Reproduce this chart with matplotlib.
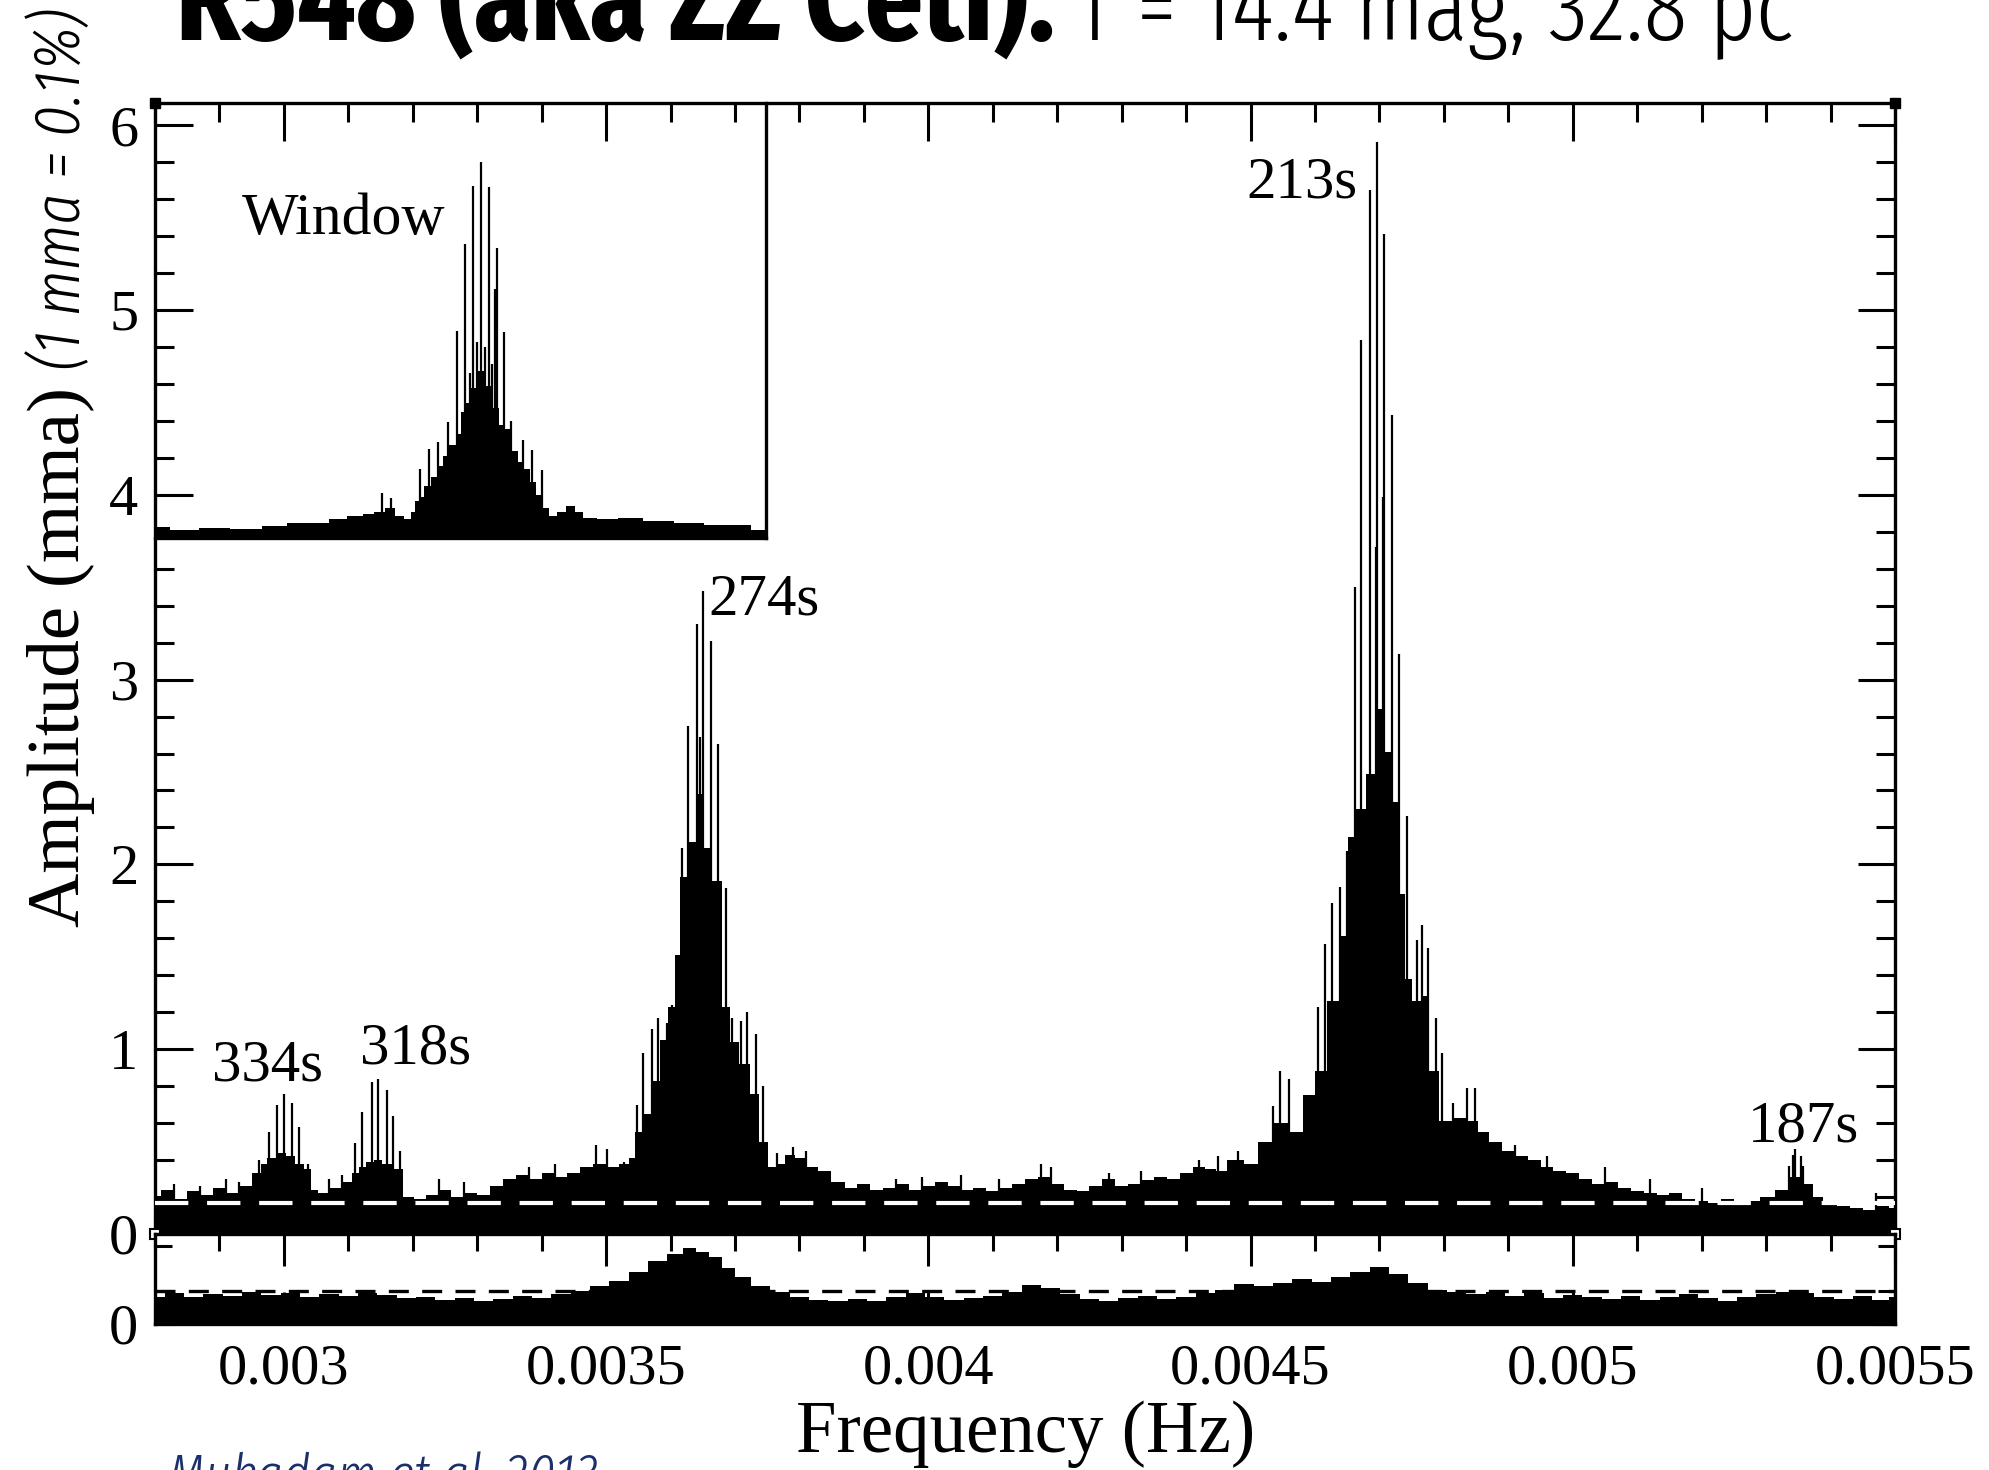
import matplotlib
matplotlib.use("Agg")
import matplotlib.pyplot as plt
import matplotlib.font_manager as fm
from matplotlib.font_manager import FontProperties
from matplotlib.ticker import MultipleLocator, FixedLocator, FormatStrFormatter

# ---------------- data ----------------
# upper panel: solid envelope of the amplitude spectrum (Hz, mma)
FREQ_ENV = [0.00280, 0.00282, 0.00284, 0.00286, 0.00288, 0.00290, 0.00292, 0.00294,
            0.002960, 0.002969, 0.002980, 0.002996, 0.003010, 0.003025, 0.003038, 0.003045,
            0.00306, 0.00308, 0.00310,
            0.003111, 0.003121, 0.003135, 0.003146, 0.003160, 0.003177, 0.003194,
            0.00321, 0.00323, 0.00325, 0.00327, 0.00329, 0.00331, 0.00333, 0.00335, 0.00337,
            0.00339, 0.00341, 0.00343, 0.00345, 0.00347, 0.00349, 0.00351, 0.00353,
            0.003542, 0.003548, 0.003563, 0.003578, 0.003590, 0.003603, 0.003611, 0.003617,
            0.003635, 0.003648, 0.003656, 0.003674, 0.003687, 0.003697, 0.003715, 0.003731,
            0.003744, 0.003757, 0.003770, 0.003785, 0.003801, 0.003820, 0.003837, 0.00386,
            0.00388, 0.00390, 0.00392, 0.00394, 0.00396, 0.00398, 0.00400, 0.00402, 0.00404,
            0.00406, 0.00408, 0.00410, 0.00412, 0.00414, 0.00416, 0.00418, 0.00420, 0.00422,
            0.00424, 0.00426, 0.00428, 0.00430, 0.00432, 0.00434, 0.00436, 0.00438, 0.00440,
            0.00442, 0.00444,
            0.004452, 0.004475, 0.004504, 0.004520, 0.004546, 0.004572, 0.004592, 0.004608,
            0.004629, 0.004644, 0.004657, 0.004671, 0.004687, 0.004700, 0.004713, 0.004726,
            0.004735, 0.004744, 0.004757, 0.004772, 0.004782, 0.004803, 0.004825, 0.004845,
            0.00486, 0.00488, 0.00490, 0.00492, 0.00494, 0.00496, 0.00498, 0.00500, 0.00502,
            0.00504, 0.00506, 0.00508, 0.00510, 0.00512, 0.00514, 0.00516, 0.00518, 0.00520,
            0.00522, 0.00524, 0.00526, 0.00528, 0.00530,
            0.005327, 0.005346, 0.005371, 0.005375,
            0.00540, 0.00542, 0.00544, 0.00546, 0.00548, 0.00550]
AMP_ENV = [0.20, 0.24, 0.19, 0.23, 0.21, 0.25, 0.22, 0.26,
           0.33, 0.38, 0.41, 0.44, 0.42, 0.38, 0.35, 0.24,
           0.22, 0.25, 0.28,
           0.33, 0.36, 0.39, 0.40, 0.38, 0.35, 0.20,
           0.19, 0.21, 0.24, 0.20, 0.22, 0.21, 0.26, 0.30, 0.32,
           0.30, 0.33, 0.31, 0.33, 0.36, 0.38, 0.36, 0.38,
           0.41, 0.55, 0.65, 0.83, 1.05, 1.23, 1.51, 1.93,
           2.12, 2.38, 2.09, 1.91, 1.23, 1.04, 0.92, 0.76,
           0.50, 0.36, 0.38, 0.43, 0.41, 0.36, 0.34, 0.28,
           0.25, 0.27, 0.24, 0.25, 0.27, 0.24, 0.26, 0.28, 0.26,
           0.24, 0.25, 0.23, 0.25, 0.27, 0.30, 0.31, 0.27, 0.24,
           0.23, 0.26, 0.30, 0.26, 0.27, 0.29, 0.31, 0.30, 0.33,
           0.36, 0.35,
           0.34, 0.40, 0.38, 0.50, 0.60, 0.55, 0.75, 0.88,
           1.26, 1.61, 2.15, 2.30, 2.49, 2.84, 2.61, 2.34,
           1.84, 1.38, 1.26, 1.29, 0.88, 0.61, 0.63, 0.61,
           0.55, 0.50, 0.45, 0.42, 0.40, 0.36, 0.34, 0.33, 0.30,
           0.27, 0.28, 0.25, 0.23, 0.22, 0.21, 0.22, 0.19, 0.18,
           0.17, 0.19, 0.17, 0.18, 0.20,
           0.24, 0.31, 0.27, 0.20,
           0.16, 0.15, 0.14, 0.13, 0.15, 0.14]

# upper panel: individual tall spikes (Hz, mma)
SPIKE_FREQ = [0.002830, 0.002870, 0.002910, 0.002930,
              0.002962, 0.002977, 0.002990, 0.003000, 0.003012, 0.003024, 0.003037,
              0.003070, 0.003090,
              0.003111, 0.003121, 0.003136, 0.003146, 0.003160, 0.003170, 0.003180,
              0.003240, 0.003280, 0.003380, 0.003420, 0.003485, 0.003501, 0.003527,
              0.003548, 0.003558, 0.003571, 0.003581, 0.003594, 0.003603, 0.003611, 0.003617,
              0.003627, 0.003641, 0.003646, 0.003651, 0.003663, 0.003674, 0.003686, 0.003695,
              0.003710, 0.003718, 0.003732, 0.003743,
              0.003765, 0.003790, 0.003810, 0.003950, 0.003990, 0.004050, 0.004110, 0.004175,
              0.004190, 0.004280, 0.004330, 0.004420, 0.004450, 0.004480,
              0.004535, 0.004546, 0.004559, 0.004604, 0.004616, 0.004626, 0.004639, 0.004649,
              0.004662, 0.004672, 0.004685, 0.004694, 0.004696, 0.004706, 0.004707, 0.004719,
              0.004731, 0.004743, 0.004759, 0.004766, 0.004776, 0.004787, 0.004797, 0.004814,
              0.004836, 0.004849,
              0.004910, 0.004960, 0.005050, 0.005120, 0.005200,
              0.005336, 0.005341, 0.005345, 0.005354, 0.005358, 0.005470]
SPIKE_AMP = [0.27, 0.26, 0.30, 0.28,
             0.40, 0.55, 0.70, 0.76, 0.71, 0.58, 0.38,
             0.30, 0.32,
             0.49, 0.66, 0.82, 0.84, 0.78, 0.64, 0.45,
             0.30, 0.28, 0.36, 0.38, 0.48, 0.46, 0.39,
             0.70, 0.98, 1.11, 1.17, 1.14, 1.24, 1.51, 2.09,
             2.75, 3.30, 2.69, 3.48, 3.21, 2.65, 1.87, 1.17,
             1.15, 1.20, 1.08, 0.80,
             0.44, 0.47, 0.45, 0.30, 0.31, 0.32, 0.30, 0.38,
             0.36, 0.33, 0.34, 0.40, 0.42, 0.45,
             0.69, 0.88, 0.84, 1.23, 1.57, 1.79, 1.88, 2.07,
             3.50, 4.84, 5.65, 3.72, 5.91, 3.99, 5.41, 4.43,
             3.14, 2.26, 1.59, 1.67, 1.55, 1.17, 0.98, 0.71,
             0.79, 0.79,
             0.48, 0.42, 0.36, 0.30, 0.25,
             0.37, 0.43, 0.46, 0.42, 0.37, 0.22]

NOISE_LEVEL = 0.17      # white dashed line (mma)

# peak labels
PEAK_LABELS = ["334s", "318s", "274s", "213s", "187s"]
PEAK_LABEL_F = [0.002889, 0.003118, 0.003659, 0.004494, 0.005272]
PEAK_LABEL_A = [0.83, 0.925, 3.35, 5.61, 0.50]

# inset: spectral window (relative units)
WIN_X = [0.0, 0.05, 0.095, 0.15, 0.20, 0.231, 0.27, 0.30, 0.33, 0.35, 0.367, 0.385,
         0.401, 0.415, 0.422, 0.428, 0.435, 0.446, 0.456, 0.466, 0.476, 0.487, 0.497,
         0.505, 0.512, 0.522, 0.534, 0.546, 0.558, 0.568, 0.578, 0.590, 0.599, 0.609,
         0.619, 0.629, 0.639, 0.650, 0.665, 0.680, 0.695, 0.707, 0.740, 0.776, 0.820,
         0.878, 0.920, 0.950, 1.0]
WIN_Y = [0.025, 0.020, 0.023, 0.022, 0.028, 0.034, 0.036, 0.045, 0.050, 0.055, 0.061, 0.070,
         0.050, 0.045, 0.060, 0.085, 0.095, 0.120, 0.140, 0.165, 0.190, 0.215, 0.240,
         0.290, 0.310, 0.345, 0.385, 0.350, 0.300, 0.260, 0.250, 0.200, 0.175, 0.160,
         0.130, 0.100, 0.070, 0.050, 0.060, 0.075, 0.060, 0.047, 0.045, 0.046, 0.040,
         0.035, 0.030, 0.030, 0.018]
WIN_SPIKE_X = [0.371, 0.386, 0.433, 0.448, 0.463, 0.480, 0.494, 0.507, 0.515, 0.521, 0.527,
               0.534, 0.540, 0.546, 0.552, 0.556, 0.559, 0.571, 0.582, 0.602, 0.617, 0.633]
WIN_SPIKE_Y = [0.103, 0.092, 0.160, 0.206, 0.221, 0.267, 0.477, 0.676, 0.380, 0.809, 0.450,
               0.864, 0.440, 0.807, 0.400, 0.573, 0.667, 0.473, 0.269, 0.225, 0.202, 0.156]

# lower panel: residual spectrum envelope (relative units)
RES_FREQ = [0.00280, 0.00283, 0.00286, 0.00289, 0.00292, 0.00295, 0.00298, 0.00301, 0.00304,
            0.00307, 0.00310, 0.00313, 0.00316, 0.00319, 0.00322, 0.00325, 0.00328, 0.00331,
            0.00334, 0.00337, 0.00340, 0.00343, 0.00346, 0.00349, 0.00352, 0.00355, 0.00358,
            0.00361, 0.00363, 0.00365, 0.00367, 0.00369, 0.00371, 0.00374, 0.00377, 0.00380,
            0.00383, 0.00386, 0.00389, 0.00392, 0.00395, 0.00398, 0.00401, 0.00404, 0.00407,
            0.00410, 0.00413, 0.00416, 0.00419, 0.00422, 0.00425, 0.00428, 0.00431, 0.00434,
            0.00437, 0.00440, 0.00443, 0.00446, 0.00449, 0.00452, 0.00455, 0.00458, 0.00461,
            0.00464, 0.00467, 0.00470, 0.00473, 0.00476, 0.00479, 0.00482, 0.00485, 0.00488,
            0.00491, 0.00494, 0.00497, 0.00500, 0.00503, 0.00506, 0.00509, 0.00512, 0.00515,
            0.00518, 0.00521, 0.00524, 0.00527, 0.00530, 0.00533, 0.00536, 0.00539, 0.00542,
            0.00545, 0.00548, 0.00550]
RES_AMP = [0.30, 0.34, 0.30, 0.33, 0.31, 0.35, 0.32, 0.34, 0.30,
           0.33, 0.31, 0.34, 0.32, 0.29, 0.30, 0.27, 0.29, 0.26,
           0.28, 0.31, 0.29, 0.33, 0.37, 0.42, 0.48, 0.58, 0.70,
           0.78, 0.84, 0.80, 0.74, 0.62, 0.52, 0.42, 0.35, 0.30,
           0.27, 0.25, 0.28, 0.26, 0.30, 0.34, 0.30, 0.27, 0.29,
           0.31, 0.36, 0.43, 0.40, 0.33, 0.28, 0.26, 0.29, 0.31,
           0.28, 0.30, 0.34, 0.38, 0.44, 0.42, 0.46, 0.50, 0.47,
           0.52, 0.58, 0.63, 0.55, 0.45, 0.38, 0.36, 0.33, 0.36,
           0.31, 0.34, 0.29, 0.32, 0.30, 0.28, 0.31, 0.27, 0.30,
           0.33, 0.29, 0.26, 0.30, 0.33, 0.36, 0.34, 0.30, 0.28,
           0.31, 0.27, 0.30]
RES_LEVEL = 0.37

X_MAJOR = [0.003, 0.0035, 0.004, 0.0045, 0.005, 0.0055]

# ---------------- fonts ----------------
plt.rcParams['font.family'] = ['Liberation Serif', 'DejaVu Serif']


def wnum(w):
    if isinstance(w, str):
        return fm.weight_dict.get(w, 400)
    return w


def pick_font(families, weight, italic):
    for fam in families:
        cands = [e for e in fm.fontManager.ttflist if e.name == fam]
        if cands:
            best = min(cands, key=lambda e: (0 if (e.style in ('italic', 'oblique')) == italic
                                             else 600) + abs(wnum(e.weight) - weight))
            return best.fname
    return None


COND_FAMS = ['Fira Sans Extra Condensed', 'Fira Sans Condensed', 'PT Sans Narrow',
             'Archivo Narrow', 'Roboto Condensed', 'Liberation Sans Narrow', 'Open Sans']
f_bold = pick_font(COND_FAMS, 700, False)
f_light = pick_font(COND_FAMS, 300, False)
f_ital = pick_font(COND_FAMS, 300, True)

# ---------------- figure ----------------
W, H = 1989, 1470
fig = plt.figure(figsize=(W / 100, H / 100), dpi=100)


def fx(p):
    return p / W


def fy(p):
    return 1 - p / H


LW = 2.4
xlim = (0.0028, 0.0055)
YTOP = 6.12

ax = fig.add_axes([fx(155), fy(1234), fx(1895) - fx(155), fy(103) - fy(1234)])
axl = fig.add_axes([fx(155), fy(1324), fx(1895) - fx(155), fy(1234) - fy(1324)])

# upper spectrum
ax.fill_between(FREQ_ENV, 0, AMP_ENV, step='mid', color='black', lw=0, zorder=2)
ax.vlines(SPIKE_FREQ, 0, SPIKE_AMP, color='black', lw=1.6, zorder=2)
ax.axhline(NOISE_LEVEL, color='white', lw=3.0, dashes=(8, 4.5), zorder=3)
ax.set_xlim(*xlim)
ax.set_ylim(0, YTOP)
ax.xaxis.set_major_locator(FixedLocator(X_MAJOR))
ax.xaxis.set_minor_locator(MultipleLocator(0.0001))
ax.yaxis.set_major_locator(MultipleLocator(1))
ax.yaxis.set_minor_locator(MultipleLocator(0.2))
ax.tick_params(which='both', direction='in', top=True, right=True, bottom=True, left=True,
               labelbottom=False, labelsize=42, width=2.2, pad=12)
ax.tick_params(which='major', length=27)
ax.tick_params(which='minor', length=14)
for s in ax.spines.values():
    s.set_linewidth(LW)

for lab, f, a in zip(PEAK_LABELS, PEAK_LABEL_F, PEAK_LABEL_A):
    ax.text(f, a, lab, fontsize=42.5, ha='left', va='baseline', zorder=4)

# corner markers
ax.plot([xlim[0], xlim[1]], [YTOP, YTOP], 's', ms=7, color='black', clip_on=False, zorder=10)
ax.plot([xlim[0], xlim[1]], [0, 0], 's', ms=7, mfc='white', mec='black', mew=1.5,
        clip_on=False, zorder=10)

# inset: window
axin = ax.inset_axes([xlim[0], 3.765, 0.003748 - xlim[0], YTOP - 3.765], transform=ax.transData)
axin.set_facecolor('none')
axin.fill_between(WIN_X, 0, WIN_Y, step='mid', color='black', lw=0)
axin.vlines(WIN_SPIKE_X, 0, WIN_SPIKE_Y, color='black', lw=1.6)
axin.set_xlim(0, 1)
axin.set_ylim(0, 1)
axin.set_xticks([])
axin.set_yticks([])
axin.spines['top'].set_visible(False)
axin.spines['left'].set_visible(False)
axin.spines['right'].set_linewidth(LW)
axin.spines['bottom'].set_linewidth(LW)
axin.text(0.142, 0.698, 'Window', fontsize=43, ha='left', va='baseline')

# lower panel
axl.fill_between(RES_FREQ, 0, RES_AMP, step='mid', color='black', lw=0, zorder=2)
axl.axhline(RES_LEVEL, color='black', lw=2.4, dashes=(6, 4), zorder=1)
axl.set_xlim(*xlim)
axl.set_ylim(0, 1)
axl.xaxis.set_major_locator(FixedLocator(X_MAJOR))
axl.xaxis.set_minor_locator(MultipleLocator(0.0001))
axl.xaxis.set_major_formatter(FormatStrFormatter('%g'))
axl.yaxis.set_major_locator(FixedLocator([0]))
axl.yaxis.set_minor_locator(FixedLocator([0.37, 0.87]))
axl.tick_params(which='both', direction='in', top=True, right=True, bottom=True, left=True,
                labelsize=42, width=2.2)
axl.tick_params(axis='x', which='major', length=23, pad=14)
axl.tick_params(axis='x', which='minor', length=12)
axl.tick_params(axis='y', which='major', length=14, pad=12)
axl.tick_params(axis='y', which='minor', length=12)
for s in axl.spines.values():
    s.set_linewidth(LW)


# texts
def fprop(fname, size, **fallback):
    if fname:
        return FontProperties(fname=fname, size=size)
    return FontProperties(family=['DejaVu Sans'], size=size, **fallback)


fp_b = fprop(f_bold, 80, weight='bold')
fp_l = fprop(f_light, 80)
fp_i = fprop(f_ital, 40, style='italic')

t_bold = fig.text(fx(176), fy(40), 'R548 (aka ZZ Ceti):', fontproperties=fp_b,
                  ha='left', va='baseline')
t_light = fig.text(fx(1075), fy(40), 'T = 14.4 mag, 32.8 pc', fontproperties=fp_l,
                   ha='left', va='baseline')
t_cite = fig.text(fx(168), fy(1452), 'Mukadam et al. 2013', fontproperties=fp_i,
                  color='#1b2f6b', ha='left', va='top')
t_pct = fig.text(fx(80), fy(370), '(1 mma = 0.1%)', fontproperties=fp_i, rotation=90,
                 rotation_mode='anchor', ha='left', va='baseline')
t_amp = fig.text(fx(79), fy(657), 'Amplitude (mma)', fontsize=57, rotation=90,
                 rotation_mode='anchor', ha='center', va='baseline')
t_freq = fig.text(fx(1026), fy(1452), 'Frequency (Hz)', fontsize=53, ha='center', va='baseline')

fig.canvas.draw()
r = fig.canvas.get_renderer()


def fit(t, target, use_height=False):
    bb = t.get_window_extent(renderer=r)
    cur = bb.height if use_height else bb.width
    if cur > 0:
        t.set_fontsize(t.get_fontsize() * target / cur)


fit(t_bold, 879)
fit(t_light, 718)
fit(t_cite, 431)
fit(t_pct, 362, use_height=True)
fit(t_amp, 540, use_height=True)
fit(t_freq, 459)

fig.savefig('out.png', dpi=100)
